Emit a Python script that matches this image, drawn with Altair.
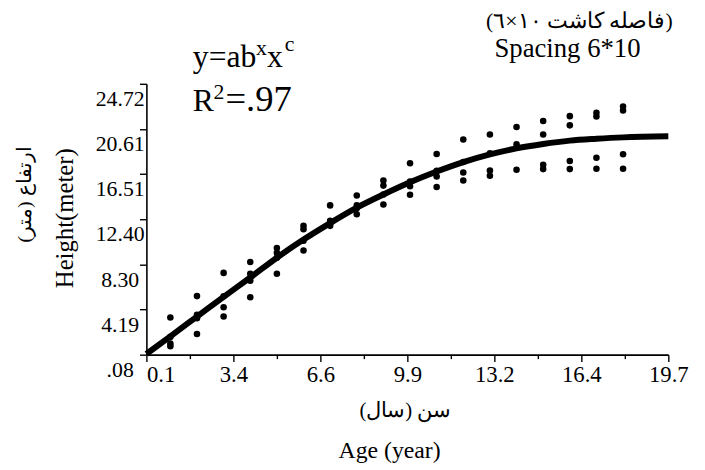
import altair as alt
import numpy as np
import pandas as pd

# ---- observed data (age in years, height in metres) ----
obs_age = [1, 1, 1, 1,
           2, 2, 2, 2,
           3, 3, 3, 3,
           4, 4, 4, 4,
           5, 5, 5, 5,
           6, 6, 6, 6,
           7, 7, 7, 7,
           8, 8, 8, 8,
           9, 9, 9, 9,
           10, 10, 10, 10,
           11, 11, 11, 11,
           12, 12, 12, 12,
           13, 13, 13, 13,
           14, 14, 14, 14,
           15, 15, 15, 15,
           16, 16, 16, 16,
           17, 17, 17, 17,
           18, 18, 18, 18]
obs_height = [3.47, 1.7, 1.1, 0.86,
              5.41, 3.70, 3.4, 1.97,
              7.52, 5.4, 4.40, 3.56,
              8.51, 7.45, 6.80, 5.30,
              9.79, 9.34, 8.9, 7.45,
              11.8, 11.5, 10.45, 9.55,
              13.66, 12.25, 12.0, 11.8,
              14.56, 13.66, 13.4, 12.85,
              15.93, 15.46, 14.65, 13.75,
              17.5, 15.84, 15.4, 14.62,
              18.34, 16.8, 16.29, 15.34,
              19.66, 17.6, 16.65, 15.93,
              20.11, 18.4, 16.83, 16.36,
              20.79, 19.23, 18.9, 16.9,
              21.33, 20.11, 17.35, 16.96,
              21.78, 20.94, 17.7, 16.96,
              22.09, 21.75, 18.0, 16.99,
              22.65, 22.29, 18.31, 16.99]

# ---- fitted curve ----
fit_age = [0.1, 1, 2, 3, 4, 5, 6, 7, 8, 9, 10, 11, 12, 13, 14, 15, 16, 17, 18, 19.7]
fit_height = [0.15, 1.75, 3.55, 5.35, 7.1, 8.9, 10.55, 12.05, 13.45, 14.65, 15.76,
              16.74, 17.6, 18.3, 18.85, 19.25, 19.55, 19.72, 19.85, 19.95]

# ---- axis extents ----
x_min, x_max = 0.1, 19.7
y_min, y_max = 0.084, 24.72
n_major = 6
n_sub = 4

x_step = (x_max - x_min) / n_major
y_step = (y_max - y_min) / n_major
x_ticks = list(np.linspace(x_min, x_max, n_major * n_sub + 1))
y_ticks = list(np.linspace(y_min, y_max, n_major * n_sub + 1))

def major_test(vmin, step):
    return (f"abs((datum.value - {vmin}) / {step} - "
            f"round((datum.value - {vmin}) / {step})) < 0.01")

x_major = major_test(x_min, x_step)
y_major = major_test(y_min, y_step)

FONT = "Liberation Serif"

obs = pd.DataFrame({"age": obs_age, "height": obs_height})
fit = pd.DataFrame({"age": fit_age, "height": fit_height})

x_enc = alt.X(
    "age:Q",
    scale=alt.Scale(domain=[x_min, x_max], nice=False, zero=False),
    axis=alt.Axis(
        values=x_ticks,
        title=None,
        grid=False,
        labelExpr=f"({x_major}) ? format(datum.value, '.1f') : ''",
        labelFont=FONT,
        labelFontSize=23,
        labelColor="black",
        labelPadding=2,
        labelAlign={"condition": {"test": "datum.value < 0.2", "value": "left"}, "value": "center"},
        labelBaseline="top",
        labelFlush=False,
        labelOverlap=False,
        domainColor="black",
        domainWidth=1.6,
        tickColor="black",
        tickWidth=1.4,
        tickSize={"condition": {"test": x_major, "value": 7}, "value": 4},
    ),
)

y_enc = alt.Y(
    "height:Q",
    scale=alt.Scale(domain=[y_min, y_max], nice=False, zero=False),
    axis=alt.Axis(
        values=y_ticks,
        title=None,
        grid=False,
        labelExpr=(f"({y_major}) ? (datum.value < 1 ? substring(format(datum.value, '.2f'), 1)"
                   f" : format(datum.value, '.2f')) : ''"),
        labelFont=FONT,
        labelFontSize=22,
        labelColor="black",
        labelAlign="center",
        labelBaseline="middle",
        labelPadding=20,
        labelOffset=15,
        labelFlush=False,
        labelOverlap=False,
        domainColor="black",
        domainWidth=1.6,
        tickColor="black",
        tickWidth=1.4,
        tickSize={"condition": {"test": y_major, "value": 7}, "value": 4},
    ),
)

points = alt.Chart(obs).mark_circle(size=44, color="black", opacity=1).encode(x=x_enc, y=y_enc)
curve = alt.Chart(fit).mark_line(color="black", strokeWidth=6, interpolate="monotone").encode(
    x="age:Q", y="height:Q"
)

def label(text, x, y, size, align="left", baseline="alphabetic", angle=0):
    df = pd.DataFrame({"t": [text]})
    kw = dict(font=FONT, fontSize=size, align=align, baseline=baseline, color="black")
    if angle:
        kw["angle"] = angle
    return alt.Chart(df).mark_text(**kw).encode(
        text="t:N", x=alt.value(x), y=alt.value(y)
    )

texts = [
    label("y=ab", 47, -17, 32),
    label("x", 111, -29, 22),
    label("x", 122, -17, 32),
    label("c", 140, -33, 22),
    label("R", 47, 28, 32),
    label("2", 68, 15, 22),
    label("=.97", 80, 28, 37),
    label("Spacing 6*10", 426, -27, 27, align="center"),
    label("\u200f(فاصله کاشت ١٠×٦)\u200f", 438, -56, 22, align="center"),
    label("Age (year)", 246, 379, 24, align="center"),
    label("\u200fسن (سال)\u200f", 262, 337, 21, align="center"),
    label("Height(meter)", -82, 136, 25, align="center", baseline="middle", angle=270),
    label("\u200fارتفاع (متر)\u200f", -123, 112, 20, align="center", baseline="middle", angle=270),
]

chart = alt.layer(points, curve, *texts).properties(
    width=528,
    height=274,
    autosize=alt.AutoSizeParams(type="none"),
    padding={"left": 140, "top": 74, "right": 29, "bottom": 114},
    background="white",
).configure_view(strokeWidth=0)

chart.save("out.html", embed_options={"renderer": "svg", "actions": False})
